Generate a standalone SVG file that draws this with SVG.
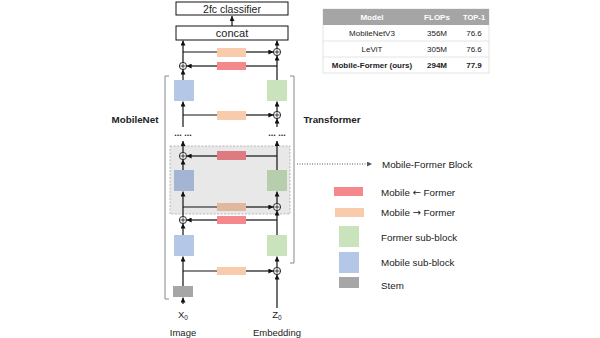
<svg xmlns="http://www.w3.org/2000/svg" width="600" height="338" viewBox="0 0 600 338">
<style>
text{font-family:"Liberation Sans",Arial,sans-serif;fill:#222}
.ar{font-family:"DejaVu Sans",sans-serif}
.ln{stroke:#111;stroke-width:1.2;fill:none}
.box{fill:#fff;stroke:#111;stroke-width:1}
.red{fill:#f4888d}
.peach{fill:#f8cbad}
.blue{fill:#b4c7e7}
.green{fill:#c9e3bd}
.stem{fill:#a6a6a6}
.cp circle{fill:#fff;stroke:#111;stroke-width:0.9}
.cp path{stroke:#111;stroke-width:0.8}
.lg{font-size:9.8px}
.tb{font-size:8px}
</style>
<defs>
<marker id="ah" viewBox="0 0 6 6" refX="6" refY="3" markerWidth="5" markerHeight="5" markerUnits="userSpaceOnUse" orient="auto"><path d="M0,0 L6,3 L0,6 z" fill="#111"/></marker>
<marker id="ahg" viewBox="0 0 6 6" refX="6" refY="3" markerWidth="5" markerHeight="5" markerUnits="userSpaceOnUse" orient="auto"><path d="M0,0 L6,3 L0,6 z" fill="#555"/></marker>
<g id="cplus" class="cp"><circle r="3.6"/><path d="M-2.6,0H2.6M0,-2.6V2.6"/></g>
</defs>

<!-- brackets -->
<g id="brackets" fill="none" stroke="#888" stroke-width="1">
<path d="M169,76H165V299H169"/>
<path d="M290,76H294V263H290"/>
</g>

<!-- top boxes -->
<g id="classifier"><rect class="box" x="176" y="2" width="112" height="13"/><text x="232" y="12.5" font-size="10.5" text-anchor="middle">2fc classifier</text></g>
<g id="concat"><rect class="box" x="176" y="26" width="112" height="14"/><text x="232" y="37" font-size="11" text-anchor="middle">concat</text></g>

<!-- blocks -->
<g id="m2f1"><rect class="peach" x="217" y="48" width="29" height="9"/></g>
<g id="f2m1"><rect class="red" x="217" y="62" width="29" height="8"/></g>
<g id="blue1"><rect class="blue" x="174" y="80" width="20" height="21"/></g>
<g id="green1"><rect class="green" x="267" y="80" width="20" height="21"/></g>
<g id="m2f2"><rect class="peach" x="217" y="111" width="29" height="9"/></g>

<g id="f2m3"><rect class="red" x="217" y="151" width="29" height="9"/></g>
<g id="blue3"><rect class="blue" x="174" y="170" width="20" height="21"/></g>
<g id="green3"><rect class="green" x="267" y="170" width="20" height="21"/></g>
<g id="m2f3"><rect class="peach" x="217" y="203" width="29" height="8"/></g>

<!-- Mobile-Former block overlay -->
<g id="mfblock"><rect x="170" y="146" width="120" height="68" fill="#000" fill-opacity="0.09" stroke="#aaa" stroke-width="0.8" stroke-dasharray="2,1.5"/></g>

<g id="f2m4"><rect class="red" x="217" y="216" width="29" height="8"/></g>
<g id="blue2"><rect class="blue" x="174" y="235" width="20" height="21"/></g>
<g id="green2"><rect class="green" x="267" y="235" width="20" height="21"/></g>
<g id="m2f4"><rect class="peach" x="217" y="267" width="29" height="8"/></g>
<g id="stem"><rect class="stem" x="173" y="286" width="20" height="11"/></g>

<!-- connectors -->
<g id="connectors" class="ln">
<line x1="232" y1="26" x2="232" y2="16" marker-end="url(#ah)"/>
<line x1="183" y1="62.4" x2="183" y2="40.5" marker-end="url(#ah)"/>
<line x1="277" y1="48.4" x2="277" y2="40.5" marker-end="url(#ah)"/>
<line x1="183" y1="52" x2="217" y2="52"/>
<line x1="246" y1="52" x2="273.4" y2="52" marker-end="url(#ah)"/>
<line x1="277" y1="66" x2="246" y2="66"/>
<line x1="217" y1="66" x2="186.6" y2="66" marker-end="url(#ah)"/>
<line x1="183" y1="80" x2="183" y2="69.6" marker-end="url(#ah)"/>
<line x1="277" y1="80" x2="277" y2="55.6" marker-end="url(#ah)"/>

<line x1="183" y1="127" x2="183" y2="101.5" marker-end="url(#ah)"/>
<line x1="183" y1="115" x2="217" y2="115"/>
<line x1="246" y1="115" x2="273.4" y2="115" marker-end="url(#ah)"/>
<line x1="277" y1="111.4" x2="277" y2="101.5" marker-end="url(#ah)"/>
<line x1="277" y1="127" x2="277" y2="118.6" marker-end="url(#ah)"/>

<line x1="183" y1="152.4" x2="183" y2="141" marker-end="url(#ah)"/>
<line x1="277" y1="170" x2="277" y2="141" marker-end="url(#ah)"/>
<line x1="277" y1="156" x2="246" y2="156"/>
<line x1="217" y1="156" x2="186.6" y2="156" marker-end="url(#ah)"/>
<line x1="183" y1="170" x2="183" y2="159.6" marker-end="url(#ah)"/>
<line x1="183" y1="216.4" x2="183" y2="191.5" marker-end="url(#ah)"/>
<line x1="183" y1="207" x2="217" y2="207"/>
<line x1="246" y1="207" x2="273.4" y2="207" marker-end="url(#ah)"/>
<line x1="277" y1="203.4" x2="277" y2="191.5" marker-end="url(#ah)"/>

<line x1="277" y1="235" x2="277" y2="210.6" marker-end="url(#ah)"/>
<line x1="277" y1="220" x2="246" y2="220"/>
<line x1="217" y1="220" x2="186.6" y2="220" marker-end="url(#ah)"/>
<line x1="183" y1="235" x2="183" y2="223.6" marker-end="url(#ah)"/>

<line x1="183" y1="286" x2="183" y2="256.5" marker-end="url(#ah)"/>
<line x1="183" y1="271" x2="217" y2="271"/>
<line x1="246" y1="271" x2="273.4" y2="271" marker-end="url(#ah)"/>
<line x1="277" y1="267.4" x2="277" y2="256.5" marker-end="url(#ah)"/>
<line x1="277" y1="308" x2="277" y2="274.6" marker-end="url(#ah)"/>
<line x1="183" y1="304" x2="183" y2="297.5" marker-end="url(#ah)"/>

<line x1="297" y1="164" x2="372" y2="164" stroke="#555" stroke-width="1" stroke-dasharray="1,1.5" marker-end="url(#ahg)"/>
</g>

<!-- adders -->
<g id="add-l1"><use href="#cplus" x="183" y="66"/></g>
<g id="add-r1"><use href="#cplus" x="277" y="52"/></g>
<g id="add-r2"><use href="#cplus" x="277" y="115"/></g>
<g id="add-l3"><use href="#cplus" x="183" y="156"/></g>
<g id="add-r3"><use href="#cplus" x="277" y="207"/></g>
<g id="add-l4"><use href="#cplus" x="183" y="220"/></g>
<g id="add-r4"><use href="#cplus" x="277" y="271"/></g>

<!-- dots -->
<text x="183" y="136" font-size="9" text-anchor="middle" font-weight="bold">... ...</text>
<text x="277" y="136" font-size="9" text-anchor="middle" font-weight="bold">... ...</text>

<!-- labels -->
<text x="135" y="122.5" font-size="9.8" font-weight="bold" text-anchor="middle">MobileNet</text>
<text x="332" y="122.5" font-size="9.8" font-weight="bold" text-anchor="middle">Transformer</text>
<text x="183" y="318" font-size="9.5" text-anchor="middle">X<tspan font-size="6.5" dy="2">0</tspan></text>
<text x="277" y="318" font-size="9.5" text-anchor="middle">Z<tspan font-size="6.5" dy="2">0</tspan></text>
<text x="183" y="336" font-size="9.5" text-anchor="middle">Image</text>
<text x="277" y="336" font-size="9.5" text-anchor="middle">Embedding</text>

<!-- table -->
<g id="table">
<rect x="323" y="9" width="166" height="64" fill="#fff" stroke="#ddd" stroke-width="0.8"/>
<rect x="323" y="9" width="166" height="16" fill="#a5a5a5"/>
<line x1="323" y1="41" x2="489" y2="41" stroke="#ddd" stroke-width="0.8"/>
<line x1="323" y1="57" x2="489" y2="57" stroke="#ddd" stroke-width="0.8"/>
<g class="tb" font-weight="bold" text-anchor="middle">
<text x="372" y="20" style="fill:#fff">Model</text>
<text x="437" y="20" style="fill:#fff">FLOPs</text>
<text x="474" y="20" style="fill:#fff" font-size="7.6">TOP-1</text>
</g>
<g class="tb" text-anchor="middle">
<text x="372" y="36">MobileNetV3</text><text x="437" y="36">356M</text><text x="474" y="36">76.6</text>
<text x="372" y="52">LeViT</text><text x="437" y="52">305M</text><text x="474" y="52">76.6</text>
</g>
<g class="tb" text-anchor="middle" font-weight="bold">
<text x="372" y="67.5">Mobile-Former (ours)</text><text x="437" y="67.5">294M</text><text x="474" y="67.5">77.9</text>
</g>
</g>

<!-- legend -->
<g id="legend">
<text class="lg" x="382" y="167.5">Mobile-Former Block</text>
<rect class="red" x="334" y="187" width="29" height="9"/><text class="lg" x="381" y="195.5">Mobile <tspan class="ar">←</tspan> Former</text>
<rect class="peach" x="335" y="208" width="29" height="9"/><text class="lg" x="381" y="215.5">Mobile <tspan class="ar">→</tspan> Former</text>
<rect class="green" x="339" y="226" width="20" height="21"/><text class="lg" x="381" y="241">Former sub-block</text>
<rect class="blue" x="339" y="252" width="20" height="21"/><text class="lg" x="381" y="265.5">Mobile sub-block</text>
<rect class="stem" x="339" y="277" width="20" height="11"/><text class="lg" x="381" y="288.5">Stem</text>
</g>
</svg>
